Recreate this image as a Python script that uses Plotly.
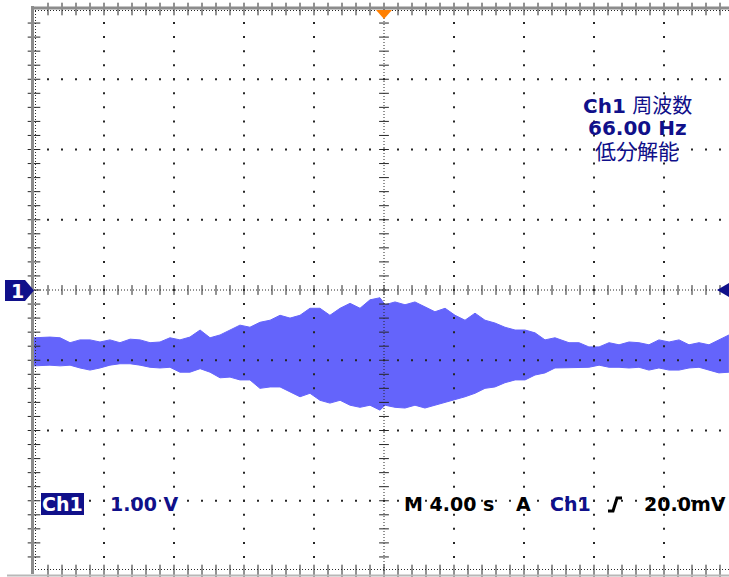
import numpy as np
import plotly.graph_objects as go

# ---------------- data (read from the screen) ----------------
# time in seconds (M 4.00 s/div, trigger at centre), volts (1.00 V/div)
time_s = [-20.00, -19.09, -18.51, -17.94, -17.37, -16.80, -16.23, -15.66, -15.09, -14.51,
          -13.94, -13.37, -12.80, -12.23, -11.66, -11.09, -10.51, -9.94, -9.37, -8.80,
          -8.23, -7.66, -7.09, -6.51, -5.94, -5.37, -4.80, -4.23, -3.66, -3.09,
          -2.51, -1.94, -1.37, -0.80, -0.23, 0.06, 0.63, 1.20, 1.77, 2.34,
          2.91, 3.49, 4.06, 4.63, 5.20, 5.77, 6.34, 6.91, 7.49, 8.06,
          8.63, 9.20, 9.77, 10.57, 11.14, 11.71, 12.29, 12.86, 13.43, 14.00,
          14.57, 15.14, 15.71, 16.29, 16.86, 17.43, 18.00, 18.57, 19.14, 19.71]

upper_v = [-0.68, -0.67, -0.68, -0.75, -0.71, -0.71, -0.74, -0.71, -0.75, -0.70,
           -0.71, -0.75, -0.74, -0.68, -0.71, -0.67, -0.57, -0.68, -0.64, -0.57,
           -0.50, -0.53, -0.46, -0.43, -0.36, -0.40, -0.36, -0.26, -0.26, -0.36,
           -0.26, -0.19, -0.26, -0.14, -0.11, -0.21, -0.17, -0.21, -0.17, -0.24,
           -0.31, -0.26, -0.36, -0.43, -0.33, -0.43, -0.47, -0.53, -0.57, -0.57,
           -0.61, -0.71, -0.68, -0.75, -0.75, -0.81, -0.81, -0.75, -0.78, -0.74,
           -0.75, -0.78, -0.71, -0.74, -0.71, -0.78, -0.75, -0.78, -0.71, -0.64]

lower_v = [-1.08, -1.07, -1.08, -1.07, -1.11, -1.14, -1.11, -1.07, -1.05, -1.05,
           -1.07, -1.10, -1.11, -1.10, -1.17, -1.17, -1.12, -1.17, -1.25, -1.24,
           -1.28, -1.28, -1.40, -1.38, -1.38, -1.45, -1.52, -1.47, -1.57, -1.61,
           -1.57, -1.64, -1.67, -1.64, -1.71, -1.64, -1.67, -1.68, -1.64, -1.68,
           -1.64, -1.61, -1.57, -1.52, -1.47, -1.40, -1.38, -1.32, -1.28, -1.28,
           -1.21, -1.18, -1.11, -1.11, -1.11, -1.10, -1.07, -1.10, -1.10, -1.11,
           -1.10, -1.14, -1.11, -1.14, -1.14, -1.11, -1.10, -1.14, -1.18, -1.17]

volts_per_div = 1.0
sec_per_div = 4.0
top_labels = ["<b>Ch1</b> 周波数", "<b>66.00 Hz</b>", "低分解能"]
bottom_labels = ["<b>Ch1</b>", "<b>1.00 V</b>", "<b>M 4.00 s</b>", "<b>A</b>", "<b>Ch1</b>", "<b>20.0mV</b>"]

# ---------------- layout geometry ----------------
W, H = 729, 577
ML, MR, MT, MB = 34, 0, 9, 6
PW, PH = W - ML - MR, H - MT - MB
X0 = -5 * sec_per_div
X1 = X0 + PW / 70.0 * sec_per_div
Y0, Y1 = -4 * volts_per_div, 4 * volts_per_div


def px(x):
    return (x - ML) / PW


def py(y):
    return (H - MB - y) / PH


SIG = "#6464fb"
NAVY = "#10108a"
DOT = "#262626"
FONT = "DejaVu Sans, Noto Sans CJK JP, sans-serif"

fig = go.Figure()

# signal envelope
fig.add_trace(go.Scatter(x=time_s, y=lower_v, mode="lines",
                         line=dict(color=SIG, width=1), hoverinfo="skip"))
fig.add_trace(go.Scatter(x=time_s, y=upper_v, mode="lines", fill="tonexty", fillcolor=SIG,
                         line=dict(color=SIG, width=1), hoverinfo="skip"))

# graticule dots on major lines
major_t = [k * sec_per_div for k in range(-4, 5) if k != 0]
major_v = [k * volts_per_div for k in range(-3, 4) if k != 0]
minor_v = np.arange(Y0 + 0.2, Y1 - 0.01, 0.2)
minor_t = np.arange(X0 + 0.8, X1, 0.8)
gx, gy = [], []
for t in major_t:
    gx += [t] * len(minor_v)
    gy += list(minor_v)
for v in major_v:
    gx += list(minor_t)
    gy += [v] * len(minor_t)
fig.add_trace(go.Scatter(x=gx, y=gy, mode="markers", cliponaxis=False,
                         marker=dict(symbol="square", size=2, color=DOT, line=dict(width=0)),
                         hoverinfo="skip"))

# centre-line cross ticks
fig.add_trace(go.Scatter(x=[0] * len(minor_v), y=minor_v, mode="markers", cliponaxis=False,
                         marker=dict(symbol="line-ew", size=7, line=dict(width=1, color=DOT)),
                         hoverinfo="skip"))
fig.add_trace(go.Scatter(x=minor_t, y=[0] * len(minor_t), mode="markers", cliponaxis=False,
                         marker=dict(symbol="line-ns", size=7, line=dict(width=1, color=DOT)),
                         hoverinfo="skip"))
# border ticks
fig.add_trace(go.Scatter(x=[X0] * len(minor_v), y=minor_v, mode="markers", cliponaxis=False,
                         marker=dict(symbol="line-ew", size=9, line=dict(width=1, color=DOT)),
                         hoverinfo="skip"))
fig.add_trace(go.Scatter(x=list(minor_t) * 2, y=[Y1] * len(minor_t) + [Y0] * len(minor_t),
                         mode="markers", cliponaxis=False,
                         marker=dict(symbol="line-ns", size=9, line=dict(width=1, color=DOT)),
                         hoverinfo="skip"))

shapes = []
# centre lines (dense dotted)
shapes.append(dict(type="line", xref="x", yref="y", x0=0, x1=0, y0=Y0, y1=Y1,
                   line=dict(color=DOT, width=1, dash="1px,2px"), layer="above"))
shapes.append(dict(type="line", xref="x", yref="y", x0=X0, x1=X1, y0=0, y1=0,
                   line=dict(color=DOT, width=1, dash="1px,2px"), layer="above"))
# dense tick rows along the borders
shapes.append(dict(type="line", xref="paper", yref="paper", x0=px(35.5), x1=px(35.5), y0=py(570), y1=py(10),
                   line=dict(color=DOT, width=1, dash="1px,2px")))
shapes.append(dict(type="line", xref="paper", yref="paper", x0=px(35), x1=px(729), y0=py(10.5), y1=py(10.5),
                   line=dict(color=DOT, width=1, dash="1px,2px")))
shapes.append(dict(type="line", xref="paper", yref="paper", x0=px(35), x1=px(729), y0=py(569.5), y1=py(569.5),
                   line=dict(color=DOT, width=1, dash="1px,2px")))
# grey frame
shapes.append(dict(type="line", xref="paper", yref="paper", x0=px(32.5), x1=px(32.5), y0=py(574), y1=py(6),
                   line=dict(color="#8c8c8c", width=3)))
shapes.append(dict(type="line", xref="paper", yref="paper", x0=px(31), x1=px(729), y0=py(8), y1=py(8),
                   line=dict(color="#8c8c8c", width=3)))
shapes.append(dict(type="line", xref="paper", yref="paper", x0=px(7), x1=px(729), y0=py(575.5), y1=py(575.5),
                   line=dict(color="#b8b8b8", width=2)))
# trigger position marker (orange)
shapes.append(dict(type="path", xref="paper", yref="paper",
                   path=f"M {px(376)},{py(10)} L {px(392)},{py(10)} L {px(384)},{py(19)} Z",
                   fillcolor="#ff7f00", line=dict(width=0), layer="above"))
# channel 1 ground marker (left)
shapes.append(dict(type="path", xref="paper", yref="paper",
                   path=(f"M {px(5)},{py(280)} L {px(25)},{py(280)} L {px(34)},{py(290.5)} "
                         f"L {px(25)},{py(301)} L {px(5)},{py(301)} Z"),
                   fillcolor=NAVY, line=dict(width=0), layer="above"))
# trigger level marker (right)
shapes.append(dict(type="path", xref="paper", yref="paper",
                   path=f"M {px(717)},{py(290)} L {px(729)},{py(283)} L {px(729)},{py(297)} Z",
                   fillcolor=NAVY, line=dict(width=0), layer="above"))
# Ch1 reverse-video box
shapes.append(dict(type="rect", xref="paper", yref="paper", x0=px(41), x1=px(84), y0=py(515), y1=py(493),
                   fillcolor=NAVY, line=dict(width=0), layer="above"))
# rising-edge slope symbol
shapes.append(dict(type="path", xref="paper", yref="paper",
                   path=(f"M {px(608)},{py(511)} L {px(613)},{py(511)} L {px(617)},{py(498)} "
                         f"L {px(622)},{py(498)}"),
                   line=dict(color="black", width=3), layer="above"))

ann = []


def text(x, y, s, color, size=20, anchor="center"):
    ann.append(dict(xref="paper", yref="paper", x=px(x), y=py(y), text=s, showarrow=False,
                    xanchor=anchor, yanchor="middle", font=dict(family=FONT, size=size, color=color)))


text(637, 106, top_labels[0], NAVY, 20)
text(637, 128, top_labels[1], NAVY, 20)
text(637, 152, top_labels[2], NAVY, 21)
text(17.5, 291, "<b>1</b>", "white", 19)
text(62.5, 504, bottom_labels[0], "white", 19)
text(144, 504, bottom_labels[1], NAVY, 19)
text(402, 504, bottom_labels[2], "black", 19, "left")
text(523.5, 504, bottom_labels[3], "black", 19)
text(570, 504, bottom_labels[4], NAVY, 19)
text(642, 504, bottom_labels[5], "black", 19, "left")

fig.update_layout(
    width=W, height=H, autosize=False,
    margin=dict(l=ML, r=MR, t=MT, b=MB, pad=0),
    paper_bgcolor="white", plot_bgcolor="white",
    showlegend=False,
    xaxis=dict(range=[X0, X1], visible=False, fixedrange=True),
    yaxis=dict(range=[Y0, Y1], visible=False, fixedrange=True),
    shapes=shapes, annotations=ann,
)

fig.write_html("out.html", config={"displayModeBar": False},
               post_script="document.body.style.margin='0px';")
